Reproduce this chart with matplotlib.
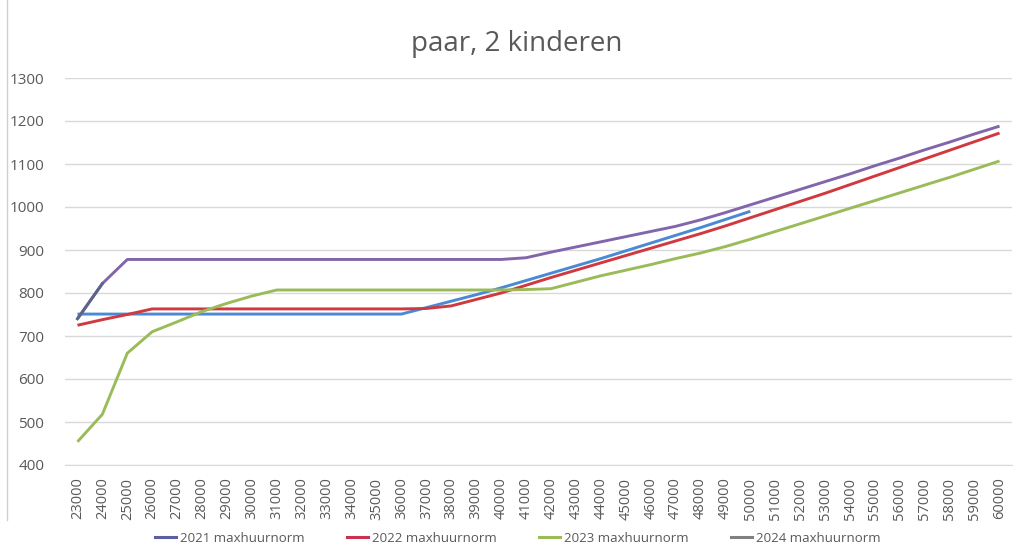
import matplotlib
matplotlib.use("Agg")
import matplotlib.pyplot as plt
from matplotlib.lines import Line2D

income = list(range(23000, 60001, 1000))
labels = [str(v) for v in income]

# 2021 (blue) - ends at 50000
norm_2021 = [751, 751, 751, 751, 751, 751, 751, 751, 751, 751, 751, 751, 751, 751,
             766, 781, 796, 812, 829, 846, 863, 880, 898, 916, 934, 952, 971, 990]
# 2022 (red)
norm_2022 = [725, 738, 750, 763, 763, 763, 763, 763, 763, 763, 763, 763, 763, 763,
             764, 770, 785, 800, 818, 836, 853, 870, 887, 904, 921, 938, 956, 975,
             994, 1013, 1032, 1052, 1072, 1092, 1112, 1132, 1152, 1172]
# 2023 (green)
norm_2023 = [454, 518, 660, 710, 733, 757, 776, 793, 807, 807, 807, 807, 807, 807,
             807, 807, 807, 807, 808, 810, 825, 840, 853, 866, 880, 893, 908, 925,
             943, 961, 979, 997, 1015, 1033, 1051, 1069, 1088, 1107]
# 2024 (purple)
norm_2024 = [740, 822, 878, 878, 878, 878, 878, 878, 878, 878, 878, 878, 878, 878,
             878, 878, 878, 878, 882, 895, 907, 919, 931, 943, 955, 970, 987, 1005,
             1023, 1041, 1059, 1077, 1096, 1114, 1133, 1151, 1170, 1188]

series_names = ["2021 maxhuurnorm", "2022 maxhuurnorm", "2023 maxhuurnorm", "2024 maxhuurnorm"]
line_colors = ["#4A8AD4", "#D0393F", "#9BBB59", "#8266AC"]
legend_colors = ["#5B5EA0", "#C8324E", "#9BBB59", "#808080"]

fig = plt.figure(figsize=(10.18, 5.51), dpi=100)
ax = fig.add_axes([65 / 1018, 1 - 465 / 551, (1012 - 65) / 1018, (465 - 78) / 551])

x = list(range(len(income)))
for vals, c in zip([norm_2021, norm_2022, norm_2023, norm_2024], line_colors):
    ax.plot(x[:len(vals)], vals, color=c, lw=2.1, solid_capstyle="butt", zorder=3)
# darker first segment of 2024 line as in reference
ax.plot(x[:2], norm_2024[:2], color="#5E6488", lw=2.1, zorder=4)

ax.set_xlim(-0.5, len(income) - 0.5)
ax.set_ylim(400, 1300)
ax.set_yticks(range(400, 1301, 100))
ax.set_xticks(x)
ax.set_xticklabels(labels, rotation=90, fontsize=10.5, color="#595959", fontfamily="Open Sans")
for t in ax.get_yticklabels():
    t.set_fontsize(11)
    t.set_color("#595959")
    t.set_fontfamily("Open Sans")
ax.tick_params(axis="both", length=0)
ax.tick_params(axis="y", pad=15)
ax.tick_params(axis="x", pad=9)
ax.grid(axis="y", color="#D9D9D9", lw=1)
ax.set_axisbelow(True)
for s in ["top", "right", "left"]:
    ax.spines[s].set_visible(False)
ax.spines["bottom"].set_color("#D9D9D9")

fig.text(517 / 1018, 1 - 44 / 551, "paar, 2 kinderen", ha="center", va="center",
         fontsize=20, color="#595959", fontfamily="Open Sans")

handles = [Line2D([0], [0], color=c, lw=2.2) for c in legend_colors]
fig.legend(handles, series_names, loc="center", bbox_to_anchor=(518 / 1018, 1 - 538 / 551),
           ncol=4, frameon=False, handlelength=1.6, handletextpad=0.3,
           columnspacing=3.2, labelcolor="#595959", prop={"family": "Open Sans", "size": 9.5})

fig.add_artist(Line2D([7 / 1018, 7 / 1018], [1 - 520 / 551, 1.0], color="#D0D0D0", lw=1))

fig.savefig("out.png", dpi=100, facecolor="white")
